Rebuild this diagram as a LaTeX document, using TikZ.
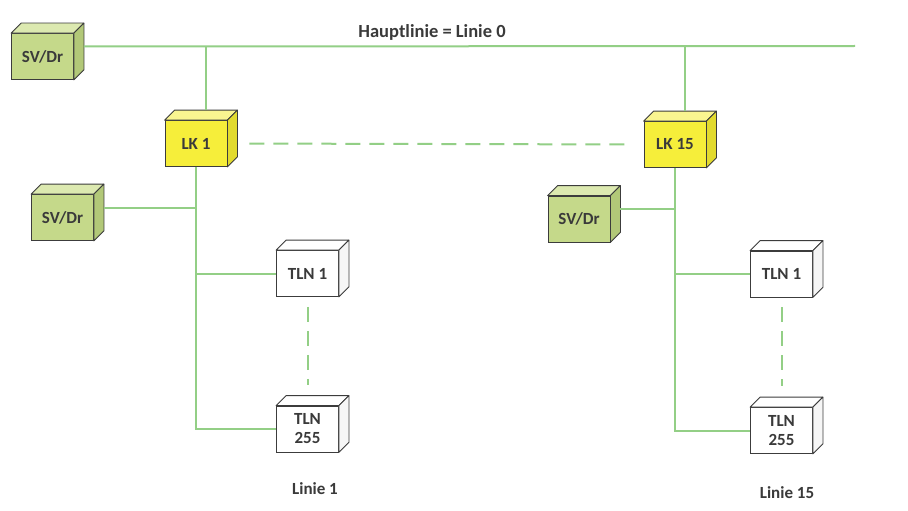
\documentclass[tikz,border=0pt]{standalone}
\usepackage{fontspec}
\setmainfont{Carlito}
\definecolor{lnk}{HTML}{93CF86}
\definecolor{txt}{HTML}{3A3A3A}
\definecolor{edgec}{HTML}{3C3C3C}
\definecolor{gfront}{HTML}{C5D98A}
\definecolor{gtop}{HTML}{DCE9B0}
\definecolor{gside}{HTML}{B2C878}
\definecolor{yfront}{HTML}{F6EE3A}
\definecolor{ytop}{HTML}{FAF590}
\definecolor{yside}{HTML}{E2DA2E}
\definecolor{wfront}{HTML}{FFFFFF}
\definecolor{wtop}{HTML}{FFFFFF}
\definecolor{wside}{HTML}{F6F6F6}
\tikzset{
  front/.style={draw=edgec, line width=0.8pt, minimum width=62pt, minimum height=46pt, inner sep=0pt,
    font=\fontsize{17}{19}\selectfont\bfseries, text=txt, align=center},
  edge/.style={draw=edgec, line width=0.8pt, line join=round},
  link/.style={draw=lnk, line width=2pt},
  dlink/.style={draw=lnk, line width=2pt, dash pattern=on 15pt off 9pt},
  lbl/.style={font=\fontsize{17}{20}\selectfont\bfseries, text=txt},
  ttl/.style={font=\fontsize{18.5}{22}\selectfont\bfseries, text=txt},
}
\newcommand{\cubebox}[5]{%
  \node[front, fill=#5front] (#1) at #2 {#3};
  \filldraw[fill=#5top, edge] (#1.north west) -- ++(10,-10) -- ([shift={(10,-10)}]#1.north east) -- (#1.north east) -- cycle;
  \filldraw[fill=#5side, edge] (#1.north east) -- ++(10,-10) -- ([shift={(10,-10)}]#1.south east) -- (#1.south east) -- cycle;
}
\begin{document}
\begin{tikzpicture}[x=1pt,y=-1pt]
\useasboundingbox[fill=white] (0,0) rectangle (908,511);
\cubebox{sva}{(42.5,56.5)}{SV/Dr}{}{g}
\cubebox{lka}{(196,143.5)}{LK 1}{}{y}
\cubebox{svb}{(62.5,217.5)}{SV/Dr}{}{g}
\cubebox{tlnaa}{(307.5,273.5)}{TLN 1}{}{w}
\cubebox{tlnab}{(307.5,429)}{TLN\\255}{}{w}
\cubebox{lkb}{(675,144.5)}{LK 15}{}{y}
\cubebox{svc}{(579,219)}{SV/Dr}{}{g}
\cubebox{tlnba}{(781.5,274)}{TLN 1}{}{w}
\cubebox{tlnbb}{(781.5,430.5)}{TLN\\255}{}{w}
\coordinate (mainR) at (855,46);
\coordinate (svaS) at ([xshift=10pt,yshift=10pt]sva.east);
\coordinate (lkaT) at ([xshift=10pt,yshift=10pt]lka.north);
\coordinate (lkbT) at ([xshift=10pt,yshift=10pt]lkb.north);
\coordinate (svbS) at ([xshift=10pt,yshift=10pt]svb.east);
\coordinate (svcS) at ([xshift=10pt,yshift=10pt]svc.east);
\node[ttl] (title) at (432,32) {Hauptlinie = Linie 0};
\node[lbl] (lin1) at (315,489) {Linie 1};
\node[lbl] (lin15) at (787,493) {Linie 15};
% main line
\draw[link] (svaS) -- (mainR);
\draw[link] (lkaT) -- (lkaT |- mainR);
\draw[link] (lkbT) -- (lkbT |- mainR);
% line 1
\draw[link] (lka.south) -- (lka.south |- tlnab.west) -- (tlnab.west);
\draw[link] (svbS) -- (svbS -| lka.south);
\draw[link] (tlnaa.west) -- (tlnaa.west -| lka.south);
\draw[dlink, shorten <=10pt, shorten >=21pt] (tlnaa.south) -- (tlnab.north);
% line 15
\draw[link] (lkb.south) -- (lkb.south |- tlnbb.west) -- (tlnbb.west);
\draw[link] (svcS) -- (svcS -| lkb.south);
\draw[link] (tlnba.west) -- (tlnba.west -| lkb.south);
\draw[dlink, shorten <=10pt, shorten >=21pt] (tlnba.south) -- (tlnbb.north);
% LK dashed
\draw[dlink, shorten <=22pt, shorten >=16pt] (lka.east) -- (lkb.west);
\end{tikzpicture}
\end{document}
